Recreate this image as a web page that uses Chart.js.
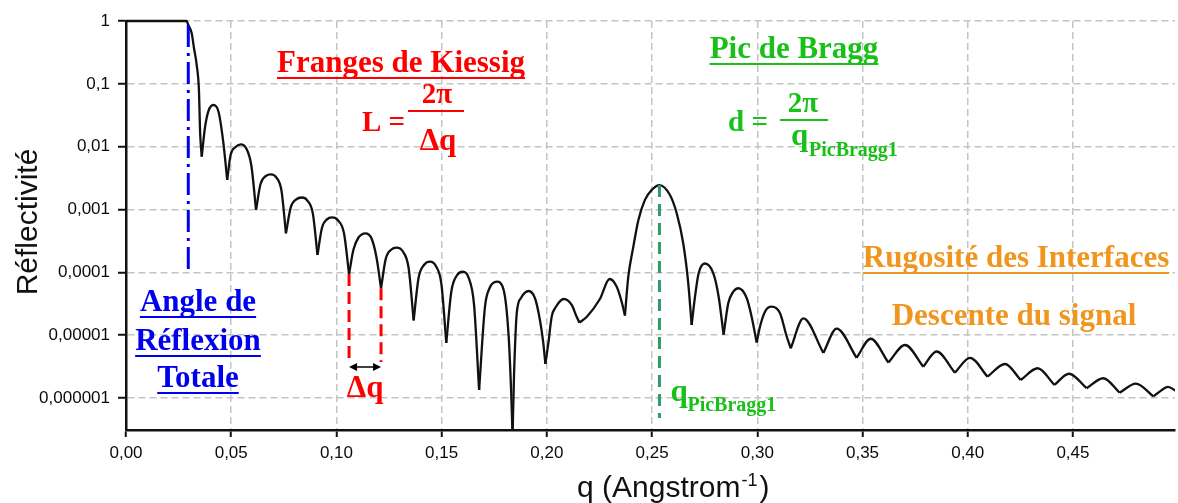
<!DOCTYPE html>
<html>
<head>
<meta charset="utf-8">
<script src="https://cdn.jsdelivr.net/npm/chart.js@4.4.1/dist/chart.umd.min.js"></script>
<style>
  html, body { margin: 0; padding: 0; background: #ffffff; }
  #wrap { width: 1178px; height: 503px; }
</style>
</head>
<body>
<div id="wrap"><canvas id="chart" width="1178" height="503"></canvas></div>
<script>
// Specular X-ray reflectivity curve of a multilayer: q (Å⁻¹) and reflectivity
const qValues = [
  0, 0.0288, 0.0296, 0.0312, 0.0323, 0.0336, 0.0347, 0.0352,
  0.0360, 0.0375, 0.0392, 0.0415, 0.0440, 0.0462,
  0.0481, 0.0497, 0.0518, 0.0545, 0.0573, 0.0596,
  0.0618, 0.0639, 0.0664, 0.0689, 0.0714, 0.0739,
  0.0760, 0.0783, 0.0809, 0.0835, 0.0861, 0.0888,
  0.0910, 0.0931, 0.0955, 0.0979, 0.1007, 0.1036,
  0.1060, 0.1081, 0.1105, 0.1138, 0.1167, 0.1190,
  0.1212, 0.1234, 0.1260, 0.1286, 0.1315, 0.1343,
  0.1367, 0.1390, 0.1418, 0.1445, 0.1472, 0.1499,
  0.1522, 0.1546, 0.1573, 0.1601, 0.1628, 0.1654,
  0.1678, 0.1706, 0.1727, 0.1762, 0.1794, 0.1818, 0.1830,
  0.1837, 0.1844, 0.1857, 0.1877, 0.1913, 0.1944, 0.1967, 0.1983,
  0.1993, 0.2007, 0.2023, 0.2041, 0.2081, 0.2118, 0.2141,
  0.2155, 0.2191, 0.2252, 0.2298, 0.2332, 0.2357,
  0.2371, 0.2387, 0.2411, 0.2435, 0.2466, 0.2498, 0.2535, 0.2585, 0.2617, 0.2648, 0.2672,
  0.2688, 0.2704, 0.2721, 0.2751, 0.2791, 0.2815,
  0.2840, 0.2862, 0.2886, 0.2910, 0.2950, 0.2973,
  0.2997, 0.3013, 0.3037, 0.3068, 0.3108, 0.3139,
  0.3159, 0.3219, 0.3314, 0.3377, 0.3472, 0.3539, 0.3623, 0.3702,
  0.3789, 0.3852, 0.3939, 0.4011, 0.4094, 0.4177, 0.4252, 0.4332,
  0.4412, 0.4481, 0.4565, 0.4644, 0.4722, 0.4799, 0.4882, 0.4905,
  0.4952, 0.4990
];
const reflectivity = [
  1, 1, 0.864, 0.644, 0.372, 0.199, 0.0741, 0.0173,
  0.00692, 0.0198, 0.0370, 0.0460, 0.0356, 0.0120,
  0.00295, 0.00737, 0.00970, 0.0109, 0.00918, 0.00492,
  0.000981, 0.00252, 0.00340, 0.00363, 0.00325, 0.00198,
  0.000418, 0.00108, 0.00145, 0.00155, 0.00140, 0.000860,
  0.000189, 0.000508, 0.000696, 0.000746, 0.000673, 0.000418,
  0.0000940, 0.000231, 0.000358, 0.000418, 0.000345, 0.000175,
  0.0000557, 0.000162, 0.000229, 0.000247, 0.000216, 0.000117,
  0.0000171, 0.0000806, 0.000133, 0.000148, 0.000127, 0.0000642,
  0.00000755, 0.0000493, 0.0000897, 0.000102, 0.0000824, 0.0000304,
  0.00000134, 0.0000284, 0.0000553, 0.0000709, 0.0000533, 0.0000101, 0.00000134,
  0.00000025, 0.00000232, 0.0000225, 0.0000390, 0.0000504, 0.0000383, 0.0000174, 0.00000750,
  0.00000347, 0.00000742, 0.0000197, 0.0000275, 0.0000376, 0.0000302, 0.0000198,
  0.0000158, 0.0000198, 0.0000376, 0.0000783, 0.0000590, 0.0000325,
  0.0000205, 0.0000852, 0.000256, 0.000680, 0.00142, 0.00204, 0.00245, 0.00170, 0.000870, 0.000290, 0.0000669,
  0.0000145, 0.0000409, 0.0000958, 0.000138, 0.0000965, 0.0000436,
  0.0000102, 0.0000321, 0.0000491, 0.0000557, 0.0000386, 0.0000197,
  0.00000764, 0.0000137, 0.0000238, 0.0000284, 0.0000223, 0.00000969,
  0.00000618, 0.0000185, 0.00000520, 0.0000127, 0.00000436, 0.00000875, 0.00000367, 0.00000697,
  0.00000315, 0.00000549, 0.00000253, 0.00000436, 0.00000218, 0.00000347, 0.00000193, 0.00000297,
  0.00000161, 0.00000243, 0.00000143, 0.00000206, 0.00000121, 0.00000169, 0.00000106, 0.00000121,
  0.00000150, 0.00000129
];

// Axis ticks
const xTickValues = [0, 0.05, 0.10, 0.15, 0.20, 0.25, 0.30, 0.35, 0.40, 0.45];
const xTickLabels = ['0,00', '0,05', '0,10', '0,15', '0,20', '0,25', '0,30', '0,35', '0,40', '0,45'];
const yTickValues = [1, 0.1, 0.01, 0.001, 0.0001, 0.00001, 0.000001];
const yTickLabels = ['1', '0,1', '0,01', '0,001', '0,0001', '0,00001', '0,000001'];

// Marked features of the curve
const criticalQ = 0.0296;                 // total reflection edge
const criticalLine = [0.86, 0.00011];     // vertical extent (reflectivity)
const kiessigMinima = [0.1060, 0.1212];   // two successive fringe minima
const kiessigLineEnd = 0.00000374;
const kiessigArrowLevel = 0.00000311;
const braggQ = 0.2535;                    // first Bragg peak
const braggLineEnd = 0.00000048;

// The curve is drawn as one arch per fringe, joined at the sharp minima
function fringeSegments(xs, ys) {
  const cuts = [0];
  for (let i = 1; i < ys.length - 1; i++) {
    if (ys[i] < ys[i - 1] && ys[i] < ys[i + 1]) cuts.push(i);
  }
  cuts.push(ys.length - 1);
  const segs = [];
  for (let k = 0; k < cuts.length - 1; k++) {
    const pts = [];
    for (let i = cuts[k]; i <= cuts[k + 1]; i++) pts.push({ x: xs[i], y: ys[i] });
    segs.push(pts);
  }
  return segs;
}

const datasets = fringeSegments(qValues, reflectivity).map(pts => ({
  data: pts,
  borderColor: '#111111',
  borderWidth: 2.3,
  pointRadius: 0,
  fill: false,
  cubicInterpolationMode: 'monotone',
  clip: { left: 0, top: 4, right: 0, bottom: 0 }
}));

function valueAt(q) {
  const i = qValues.indexOf(q);
  return reflectivity[i];
}

const SERIF = '"Liberation Serif", "Times New Roman", serif';
const SANS = '"Liberation Sans", Arial, sans-serif';

function drawText(ctx, str, x, y, font, color, align) {
  ctx.font = font;
  ctx.fillStyle = color;
  ctx.textAlign = align || 'left';
  ctx.textBaseline = 'alphabetic';
  ctx.fillText(str, x, y);
}

function drawUnderlined(ctx, str, cx, y, font, color) {
  ctx.font = font;
  const w = ctx.measureText(str).width;
  drawText(ctx, str, cx, y, font, color, 'center');
  ctx.strokeStyle = color;
  ctx.lineWidth = 2;
  ctx.setLineDash([]);
  ctx.beginPath();
  ctx.moveTo(cx - w / 2, y + 6);
  ctx.lineTo(cx + w / 2, y + 6);
  ctx.stroke();
}

function vLine(ctx, x, y1, y2, color, width, dash) {
  ctx.save();
  ctx.strokeStyle = color;
  ctx.lineWidth = width;
  ctx.setLineDash(dash);
  ctx.beginPath();
  ctx.moveTo(x, y1);
  ctx.lineTo(x, y2);
  ctx.stroke();
  ctx.restore();
}

function hBar(ctx, x1, x2, y, color) {
  ctx.save();
  ctx.strokeStyle = color;
  ctx.lineWidth = 2;
  ctx.beginPath();
  ctx.moveTo(x1, y);
  ctx.lineTo(x2, y);
  ctx.stroke();
  ctx.restore();
}

function arrowHead(ctx, x, y, dir) {
  ctx.beginPath();
  ctx.moveTo(x, y);
  ctx.lineTo(x - dir * 8, y - 4);
  ctx.lineTo(x - dir * 8, y + 4);
  ctx.closePath();
  ctx.fill();
}

const RED = '#ff0000';
const BLUE = '#0000f0';
const GREEN = '#18c018';
const TEAL = '#2c9c68';
const ORANGE = '#f0961e';
const H = 'bold 31px ' + SERIF;
const F = 'bold 29px ' + SERIF;
const SUB = 'bold 20px ' + SERIF;

const annotations = {
  id: 'annotations',
  afterDatasetsDraw(chart) {
    const { ctx, scales: { x, y } } = chart;
    ctx.save();

    // Total reflection edge
    const xc = x.getPixelForValue(criticalQ);
    vLine(ctx, xc, y.getPixelForValue(criticalLine[0]), y.getPixelForValue(criticalLine[1]), BLUE, 3, [22, 6, 3, 6]);

    // Kiessig fringe spacing
    const xa = x.getPixelForValue(kiessigMinima[0]);
    const xb = x.getPixelForValue(kiessigMinima[1]);
    const yEnd = y.getPixelForValue(kiessigLineEnd);
    vLine(ctx, xa, y.getPixelForValue(valueAt(kiessigMinima[0])), yEnd, RED, 3, [12, 6]);
    vLine(ctx, xb, y.getPixelForValue(valueAt(kiessigMinima[1])), yEnd, RED, 3, [12, 6]);
    const ya = y.getPixelForValue(kiessigArrowLevel);
    ctx.strokeStyle = '#000';
    ctx.fillStyle = '#000';
    ctx.lineWidth = 1.5;
    ctx.setLineDash([]);
    ctx.beginPath();
    ctx.moveTo(xa + 2, ya);
    ctx.lineTo(xb - 2, ya);
    ctx.stroke();
    arrowHead(ctx, xa, ya, -1);
    arrowHead(ctx, xb, ya, 1);
    drawText(ctx, 'Δq', (xa + xb) / 2, ya + 30, H, RED, 'center');

    // Bragg peak
    const xg = x.getPixelForValue(braggQ);
    vLine(ctx, xg, y.getPixelForValue(valueAt(braggQ)), y.getPixelForValue(braggLineEnd), TEAL, 3, [12, 7]);
    drawText(ctx, 'q', xg + 11, 401, H, GREEN, 'left');
    drawText(ctx, 'PicBragg1', xg + 28, 411, SUB, GREEN, 'left');

    // Headings and formulas
    drawUnderlined(ctx, 'Franges de Kiessig', 401, 72, H, RED);
    drawText(ctx, 'L =', 362, 131, F, RED, 'left');
    drawText(ctx, '2π', 437, 103, F, RED, 'center');
    hBar(ctx, 408, 464, 111, RED);
    drawText(ctx, 'Δq', 438, 150, H, RED, 'center');

    drawUnderlined(ctx, 'Pic de Bragg', 794, 58, H, GREEN);
    drawText(ctx, 'd =', 728, 131, F, GREEN, 'left');
    drawText(ctx, '2π', 803, 112, F, GREEN, 'center');
    hBar(ctx, 780, 828, 120, GREEN);
    drawText(ctx, 'q', 791, 145, H, GREEN, 'left');
    drawText(ctx, 'PicBragg1', 809, 156, SUB, GREEN, 'left');

    drawUnderlined(ctx, 'Angle de', 198, 311, H, BLUE);
    drawUnderlined(ctx, 'Réflexion', 198, 350, H, BLUE);
    drawUnderlined(ctx, 'Totale', 198, 387, H, BLUE);

    drawUnderlined(ctx, 'Rugosité des Interfaces', 1016, 267, H, ORANGE);
    drawText(ctx, 'Descente du signal', 1014, 325, H, ORANGE, 'center');

    ctx.restore();
  },
  afterDraw(chart) {
    const { ctx } = chart;
    ctx.save();
    // y-axis title
    ctx.translate(37, 222);
    ctx.rotate(-Math.PI / 2);
    drawText(ctx, 'Réflectivité', 0, 0, '30px ' + SANS, '#111', 'center');
    ctx.restore();
    ctx.save();
    // x-axis title with superscript exponent
    let xp = 577;
    const base = 497;
    ctx.font = '30px ' + SANS;
    drawText(ctx, 'q (Angstrom', xp, base, '30px ' + SANS, '#111', 'left');
    xp += ctx.measureText('q (Angstrom').width;
    ctx.font = '18px ' + SANS;
    drawText(ctx, '-1', xp + 1, base - 11, '18px ' + SANS, '#111', 'left');
    xp += ctx.measureText('-1').width + 3;
    drawText(ctx, ')', xp, base, '30px ' + SANS, '#111', 'left');
    ctx.restore();
  }
};

const tickFont = { family: SANS, size: 17 };

new Chart(document.getElementById('chart'), {
  type: 'line',
  data: { datasets },
  options: {
    responsive: false,
    animation: false,
    devicePixelRatio: 1,
    layout: { padding: { top: 21, right: 3, bottom: 0, left: 0 } },
    plugins: { legend: { display: false }, tooltip: { enabled: false } },
    scales: {
      x: {
        type: 'linear',
        min: 0,
        max: 0.4985,
        afterBuildTicks: s => { s.ticks = xTickValues.map(v => ({ value: v })); },
        afterFit: s => { s.height = 73; },
        ticks: {
          callback: (v, i) => xTickLabels[i],
          font: tickFont,
          color: '#0a0a0a',
          padding: 6,
          maxRotation: 0,
          autoSkip: false
        },
        grid: { color: '#c4c4c4', lineWidth: 1.5, tickLength: 7, tickWidth: 2, tickColor: '#111' },
        border: { color: '#111', width: 2.5, dash: [7, 4] }
      },
      y: {
        type: 'logarithmic',
        min: 3.09e-7,
        max: 1,
        afterBuildTicks: s => { s.ticks = yTickValues.map(v => ({ value: v })); },
        afterFit: s => { s.width = 126; },
        ticks: {
          callback: (v, i) => yTickLabels[i],
          font: tickFont,
          color: '#0a0a0a',
          padding: 8,
          autoSkip: false
        },
        grid: { color: '#c4c4c4', lineWidth: 1.5, tickLength: 8, tickWidth: 2, tickColor: '#111' },
        border: { color: '#111', width: 2.5, dash: [7, 4] }
      }
    }
  },
  plugins: [annotations]
});
</script>
</body>
</html>
